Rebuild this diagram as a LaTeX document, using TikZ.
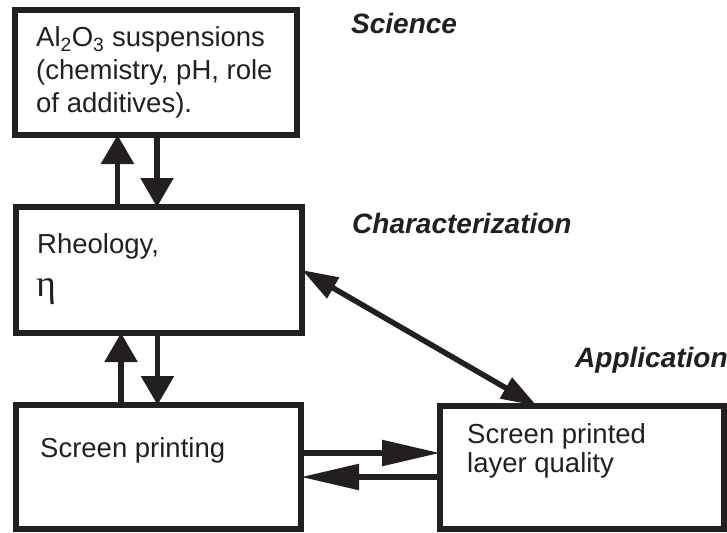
\documentclass[tikz,border=0pt]{standalone}
\usepackage{fontspec}
\setmainfont{Liberation Sans}
\newfontfamily\greekserif{Liberation Serif}
\usetikzlibrary{arrows.meta}
\definecolor{ink}{HTML}{231F20}
\tikzset{
  box/.style={draw=ink, line width=6pt, inner sep=0pt, outer sep=0pt},
  txt/.style={anchor=base west, inner sep=0pt, text=ink, font=\fontsize{27.5}{33}\selectfont},
  lbl/.style={anchor=base west, inner sep=0pt, text=ink, font=\fontsize{28}{33}\selectfont\bfseries\itshape},
  varr/.style={draw=ink, fill=ink, line width=5.5pt, -{Triangle[length=29pt,width=32pt]}},
  harr/.style={draw=ink, fill=ink, line width=5.5pt, -{Triangle[length=58pt,width=25pt]}},
  darr/.style={draw=ink, fill=ink, line width=5.5pt, {Triangle[length=36pt,width=23pt]}-{Triangle[length=36pt,width=23pt]}},
}
\begin{document}
\begin{tikzpicture}[x=1pt,y=-1pt]
\useasboundingbox (0,0) rectangle (727,532);
% boxes
\node[box, minimum width=282pt, minimum height=125pt] (b1) at (156,72.5) {};
\node[box, minimum width=286pt, minimum height=126pt] (b2) at (159,270) {};
\node[box, minimum width=285pt, minimum height=124pt] (b3) at (158.5,467) {};
\node[box, minimum width=284pt, minimum height=123pt] (b4) at (582,467.5) {};
% box texts
\node[txt] (t1a) at (36,47) {Al\textsubscript{2}O\textsubscript{3} suspensions};
\node[txt] (t1b) at (36,80) {(chemistry, pH, role};
\node[txt] (t1c) at (36,113) {of additives).};
\node[txt] (t2a) at (37,253) {Rheology,};
\node[anchor=base west, inner sep=0pt, text=ink, font=\fontsize{38}{40}\selectfont\greekserif] (t2b) at (36,296) {η};
\node[txt] (t3) at (40,457) {Screen printing};
\node[txt] (t4a) at (467,443) {Screen printed};
\node[txt] (t4b) at (467,472) {layer quality};
% side labels
\node[lbl] (l1) at (351,34) {Science};
\node[lbl] (l2) at (352,233) {Characterization};
\node[lbl] (l3) at (575,367) {Application};
% x positions for connectors
\coordinate (xa) at (117.5,0);
\coordinate (xb) at (157,0);
\coordinate (xc) at (121,0);
\coordinate (xd) at (157.5,0);
\coordinate (xe) at (537,0);
\coordinate (ya) at (0,453);
\coordinate (yb) at (0,477);
% connectors
\draw[varr] (b2.north -| xa) -- (b1.south -| xa);
\draw[varr] (b1.south -| xb) -- (b2.north -| xb);
\draw[varr] (b3.north -| xc) -- (b2.south -| xc);
\draw[varr] (b2.south -| xd) -- (b3.north -| xd);
\draw[darr] (b2.east) -- (b4.north -| xe);
\draw[harr] (b3.east |- ya) -- (b4.west |- ya);
\draw[harr] (b4.west |- yb) -- (b3.east |- yb);
\end{tikzpicture}
\end{document}
